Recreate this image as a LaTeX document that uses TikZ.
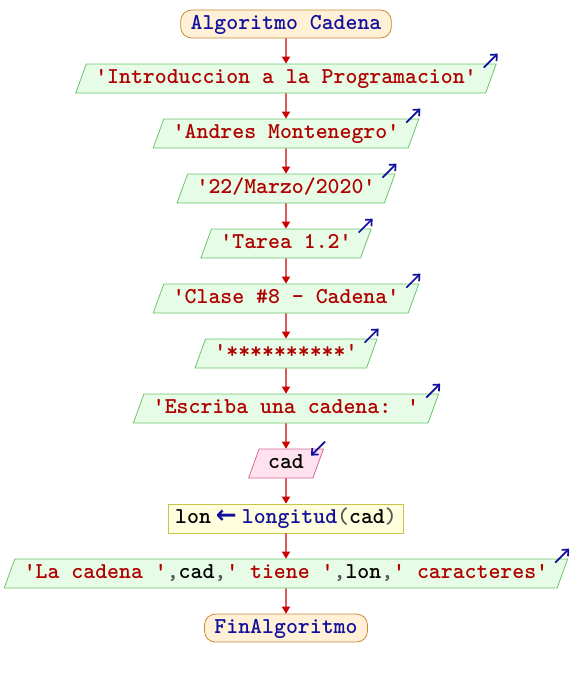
\documentclass[tikz,border=0pt]{standalone}
\usepackage{fontspec}
\newfontfamily\arrowfont{DejaVu Sans}
\usetikzlibrary{positioning,shapes.geometric,arrows.meta}

\definecolor{termfill}{HTML}{FFF0D6}
\definecolor{termdraw}{HTML}{C88A3A}
\definecolor{kwblue}{HTML}{10109C}
\definecolor{salfill}{HTML}{E6FCE6}
\definecolor{saldraw}{HTML}{6CC46C}
\definecolor{strred}{HTML}{B00000}
\definecolor{entfill}{HTML}{FFE2EE}
\definecolor{entdraw}{HTML}{D4679A}
\definecolor{procfill}{HTML}{FFFFDD}
\definecolor{procdraw}{HTML}{C8C44A}
\definecolor{flowred}{HTML}{CC0000}
\definecolor{comagrey}{HTML}{555555}

\newcommand{\strlit}[1]{{\color{strred}#1}}
\newcommand{\coma}{{\color{comagrey},}}

\tikzset{
  base/.style={font=\ttfamily\bfseries\fontsize{22.7}{26}\selectfont,
    text height=15pt, text depth=5pt, inner ysep=4.5pt, minimum height=29pt,
    line width=0.8pt},
  terminal/.style={base, draw=termdraw, fill=termfill, text=kwblue,
    rounded corners=11pt, inner xsep=10pt, inner ysep=4pt, minimum height=28pt},
  salida/.style={base, trapezium, trapezium left angle=70, trapezium right angle=110,
    draw=saldraw, fill=salfill, text=strred, inner xsep=9pt},
  entrada/.style={salida, draw=entdraw, fill=entfill, text=black},
  proceso/.style={base, rectangle, draw=procdraw, fill=procfill, inner xsep=7pt},
  flujo/.style={draw=flowred, line width=1.4pt, -{Triangle[length=7pt,width=8pt]}},
  marca/.style={draw=kwblue, line width=1.7pt, -{Straight Barb[length=5pt,width=9pt]}}
}

\begin{document}
\begin{tikzpicture}[x=1pt,y=1pt,node distance=25.2pt]
\useasboundingbox (0,0) rectangle (572,-680);
% diagrama de flujo
\node[terminal] (inicio) at (286,-24) {Algoritmo Cadena};
\node[salida, below=of inicio] (materia) {'Introduccion a la Programacion'};
\node[salida, below=of materia] (autor) {'Andres Montenegro'};
\node[salida, below=of autor] (fecha) {'22/Marzo/2020'};
\node[salida, below=of fecha] (tarea) {'Tarea 1.2'};
\node[salida, below=of tarea] (clase) {'Clase \#8 - Cadena'};
\node[salida, below=of clase] (linea) {'**********'};
\node[salida, below=of linea] (pedir) {'Escriba una cadena: '};
\node[entrada, below=of pedir] (leer) {cad};
\node[proceso, below=of leer] (calc) {lon\hspace{5pt}{\color{kwblue}\arrowfont\fontsize{25}{26}\selectfont ←}\hspace{5pt}{\color{kwblue}longitud}{\color{comagrey}(}cad{\color{comagrey})}};
\node[salida, below=of calc, text=black] (mostrar) {\strlit{'La cadena '}\coma cad\coma\strlit{' tiene '}\coma lon\coma\strlit{' caracteres'}};
\node[terminal, below=of mostrar] (fin) {FinAlgoritmo};
% flechas
\foreach \a/\b in {inicio/materia, materia/autor, autor/fecha, fecha/tarea, tarea/clase,
  clase/linea, linea/pedir, pedir/leer, leer/calc, calc/mostrar, mostrar/fin}
  \draw[flujo] (\a) -- (\b);
\foreach \n in {materia, autor, fecha, tarea, clase, linea, pedir, mostrar}
  \draw[marca] ([shift={(-13,-4)}]\n.top right corner) -- ++(14,14);
\draw[marca] ([shift={(1,7)}]leer.top right corner) -- ++(-14,-14);
\end{tikzpicture}
\end{document}
